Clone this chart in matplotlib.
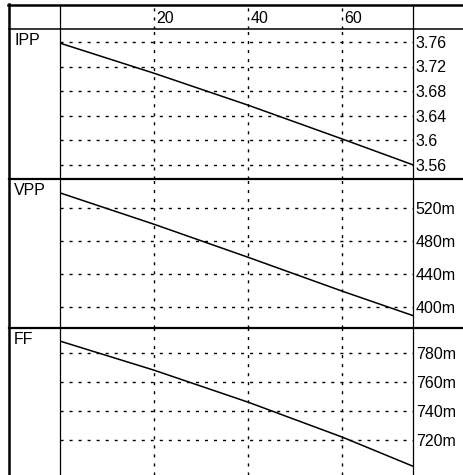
import numpy as np
import matplotlib
matplotlib.use("Agg")
import matplotlib.pyplot as plt
from matplotlib.ticker import FuncFormatter

plt.rcParams['font.family'] = ['Liberation Sans', 'DejaVu Sans']
plt.rcParams['lines.scale_dashes'] = False

# данные
x = [0, 20, 40, 60, 75]
ipp = [3.758, 3.709, 3.657, 3.602, 3.560]
vpp = [0.538, 0.500, 0.460, 0.419, 0.3895]
ff = [0.788, 0.768, 0.746, 0.722, 0.702]

names = ['IPP', 'VPP', 'FF']
series = [ipp, vpp, ff]
yticks = [[3.56, 3.6, 3.64, 3.68, 3.72, 3.76],
          [0.40, 0.44, 0.48, 0.52],
          [0.72, 0.74, 0.76, 0.78]]
ylims = [(3.537, 3.781), (0.3745, 0.5548), (0.696, 0.797)]
xticks = [20, 40, 60]
xlim = (0, 75)

W, H = 463, 475
fig = plt.figure(figsize=(W / 100, H / 100), dpi=100)

# фон с рамкой (в пикселях)
bg = fig.add_axes([0, 0, 1, 1])
bg.set_xlim(0, W)
bg.set_ylim(H, 0)
bg.axis('off')
k = 'black'
bg.plot([9, 9], [4, H], color=k, lw=1.8)
bg.plot([8, W], [5, 5], color=k, lw=1.8)
bg.plot([9, W], [29, 29], color=k, lw=1.1)
bg.plot([9, W], [179, 179], color=k, lw=1.6)
bg.plot([9, W], [328, 328], color=k, lw=1.6)
bg.plot([60, 60], [5, H], color=k, lw=0.9)
bg.plot([413, 413], [5, H], color=k, lw=0.9)

x0, x1 = 60, 413


def rect(y0, y1):
    return [x0 / W, 1 - y1 / H, (x1 - x0) / W, (y1 - y0) / H]


dots = (0, (2.2, 4.3))

# шапка с подписями оси X
head = fig.add_axes(rect(5, 29))
head.patch.set_alpha(0)
head.set_xlim(*xlim)
head.set_ylim(0, 1)
for s in head.spines.values():
    s.set_visible(False)
head.set_yticks([])
head.set_xticks(xticks)
head.tick_params(length=0, labelbottom=False)
head.grid(True, axis='x', color=k, lw=1.0, linestyle=dots)
for t in xticks:
    head.text(t + 0.4, 0.42, str(t), ha='left', va='center', fontsize=11.5)

fmts = [lambda v, p: '%g' % v,
        lambda v, p: '%dm' % round(v * 1000),
        lambda v, p: '%dm' % round(v * 1000)]
bands = [(29, 179), (179, 328), (328, 475)]

for i in range(3):
    ax = fig.add_axes(rect(*bands[i]))
    ax.patch.set_alpha(0)
    ax.plot(x, series[i], color=k, lw=1.1)
    ax.set_xlim(*xlim)
    ax.set_ylim(*ylims[i])
    ax.set_xticks(xticks)
    ax.set_yticks(yticks[i])
    ax.yaxis.tick_right()
    ax.yaxis.set_major_formatter(FuncFormatter(fmts[i]))
    ax.tick_params(length=0, labelbottom=False, labelsize=11.5, pad=2)
    for s in ax.spines.values():
        s.set_visible(False)
    ax.grid(True, color=k, lw=1.0, linestyle=dots)
    bg.text(14, bands[i][0] + 4, names[i], ha='left', va='top', fontsize=11.5)

fig.savefig('out.png', dpi=100)
